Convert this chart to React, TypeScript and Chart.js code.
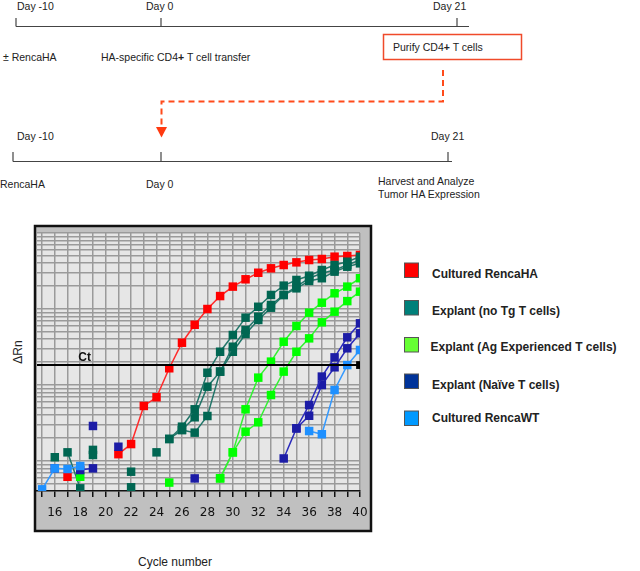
import React, { useEffect, useRef } from 'react';
import { Chart, registerables } from 'chart.js';

Chart.register(...registerables);

// Cycle numbers (x) 15..40
const cycles = [15, 16, 17, 18, 19, 20, 21, 22, 23, 24, 25, 26, 27, 28, 29, 30, 31, 32, 33, 34, 35, 36, 37, 38, 39, 40];
const xTickLabels = ['16', '18', '20', '22', '24', '26', '28', '30', '32', '34', '36', '38', '40'];
const N = null;

// ΔRn values per cycle (log scale)
const culturedRencaHA = [N, N, 0.0062, N, N, N, 0.0123, 0.0167, 0.053, 0.069, 0.166, 0.36, 0.62, 1.0, 1.48, 1.97, 2.46, 3.0, 3.43, 3.79, 4.11, 4.41, 4.55, 4.88, 4.98, 5.13];
const explantNoTgA = [N, N, 0.013, 0.00437, N, N, N, N, N, N, 0.0195, 0.0283, 0.0479, 0.145, 0.274, 0.455, 0.769, 1.07, 1.53, 2.03, 2.41, 2.74, 3.26, 3.79, 4.19, 4.88];
const explantNoTgB = [N, 0.0112, N, N, 0.014, N, N, 0.00723, N, N, 0.0195, 0.0256, 0.0376, 0.095, 0.15, 0.319, 0.53, 0.792, 1.13, 1.53, 1.97, 2.54, 2.95, 3.26, 3.79, 4.41];
const explantNoTgC = [N, N, N, N, 0.012, N, N, 0.00451, N, 0.013, N, 0.0256, 0.0236, 0.0391, 0.15, 0.274, 0.469, 0.717, 1.04, 1.53, 1.87, 2.34, 2.54, 3.1, 3.6, 3.99];
const explantAgExpA = [N, N, N, 0.0062, N, N, N, N, N, N, 0.0052, N, N, N, 0.00592, 0.013, 0.0479, 0.125, 0.203, 0.371, 0.598, 0.894, 1.21, 1.61, 1.97, 2.54];
const explantAgExpB = [N, N, N, N, N, N, N, N, N, N, N, N, N, N, 0.00592, 0.013, 0.0243, 0.0323, 0.0738, 0.15, 0.274, 0.411, 0.668, 0.922, 1.27, 1.69];
const explantNaiveA = [N, 0.008, N, 0.0076, 0.008, N, 0.0154, N, N, N, N, N, 0.0059, N, N, N, N, N, N, 0.0108, 0.0269, 0.0545, 0.129, 0.231, 0.424, 0.648];
const explantNaiveB = [N, N, N, N, 0.0289, N, N, N, N, N, N, N, N, N, N, N, N, N, N, N, 0.0269, 0.0394, 0.1, 0.171, 0.304, 0.479];
const culturedRencaWT = [0.00424, 0.008, 0.00785, 0.00859, N, N, N, N, N, N, N, N, N, N, N, N, N, N, N, N, N, 0.0248, 0.0225, 0.0859, 0.183, 0.289];

const ctThreshold = 0.183;
const xMin = 14.6;
const xMax = 40;
const yMin = 0.00403;
const yMax = 10;

const legendLabels = [
  'Cultured RencaHA',
  'Explant (no Tg T cells)',
  'Explant (Ag Experienced T cells)',
  'Explant (Naïve T cells)',
  'Cultured RencaWT',
];
const legendColors = ['#ff0000', '#00807a', '#66ff33', '#003399', '#0099ff'];

const toPts = (arr: (number | null)[]) => arr.map((v, i) => ({ x: cycles[i], y: v }));

const bgPlugin = {
  id: 'plotBg',
  beforeDraw(chart: any) {
    const { ctx, chartArea } = chart;
    ctx.save();
    ctx.fillStyle = '#e6e6e6';
    ctx.fillRect(chartArea.left, chartArea.top, chartArea.right - chartArea.left, chartArea.bottom - chartArea.top);
    ctx.restore();
  },
};

const ctLabelPlugin = {
  id: 'ctLabel',
  afterDatasetsDraw(chart: any) {
    const { ctx } = chart;
    const x = chart.scales.x.getPixelForValue(17.85);
    const y = chart.scales.y.getPixelForValue(ctThreshold);
    ctx.save();
    ctx.fillStyle = '#111';
    ctx.font = 'bold 12px "Liberation Sans", Arial, sans-serif';
    ctx.textBaseline = 'bottom';
    ctx.textAlign = 'left';
    ctx.fillText('Ct', x, y - 1);
    ctx.restore();
  },
};

function series(data: (number | null)[], point: string, line: string) {
  return {
    data: toPts(data),
    borderColor: line,
    backgroundColor: point,
    pointBackgroundColor: point,
    pointBorderColor: point,
    pointBorderWidth: 0,
    pointStyle: 'rect',
    pointRadius: 6,
    borderWidth: 1.5,
    spanGaps: false,
    clip: 0,
    tension: 0,
  };
}

export default function App() {
  const ref = useRef<HTMLCanvasElement>(null);

  useEffect(() => {
    if (!ref.current) return;
    const teal = ['#006652', '#23766a'];
    const green = ['#00ff00', '#33f033'];
    const navy = ['#1c1ca6', '#2c2cbc'];
    const chart = new Chart(ref.current, {
      type: 'line',
      data: {
        datasets: [
          {
            data: [{ x: xMin, y: ctThreshold }, { x: xMax, y: ctThreshold }],
            borderColor: '#000',
            borderWidth: 2,
            pointRadius: [0, 5.5],
            pointStyle: 'rect',
            pointBackgroundColor: '#000',
            pointBorderWidth: 0,
            clip: 0,
          } as any,
          series(culturedRencaWT, '#1e90ff', '#3399ff'),
          series(explantNaiveA, navy[0], navy[1]),
          series(explantNaiveB, navy[0], navy[1]),
          series(explantAgExpA, green[0], green[1]),
          series(explantAgExpB, green[0], green[1]),
          series(explantNoTgA, teal[0], teal[1]),
          series(explantNoTgB, teal[0], teal[1]),
          series(explantNoTgC, teal[0], teal[1]),
          series(culturedRencaHA, '#ff0000', '#ff2a2a'),
        ] as any,
      },
      options: {
        responsive: false,
        animation: false,
        devicePixelRatio: 1,
        events: [],
        layout: { padding: { left: 37, right: 280, top: 233, bottom: 40 } },
        plugins: { legend: { display: false }, tooltip: { enabled: false } },
        scales: {
          x: {
            type: 'linear',
            min: xMin,
            max: xMax,
            afterBuildTicks: (scale: any) => {
              scale.ticks = cycles.map((c) => ({ value: c }));
            },
            afterFit: (scale: any) => {
              scale.height = 40;
            },
            ticks: {
              autoSkip: false,
              maxRotation: 0,
              padding: 9,
              color: '#111',
              font: { family: '"DejaVu Sans", Verdana, sans-serif', size: 12 },
              callback: (v: any) => (xTickLabels.includes(String(v)) ? String(v) : ''),
            },
            grid: {
              color: '#9a9a9a',
              lineWidth: 1.5,
              drawTicks: true,
              tickLength: 6,
              tickColor: '#111',
              tickWidth: 1.5,
            },
            border: { display: true, color: '#111', width: 1.5 },
          },
          y: {
            type: 'logarithmic',
            min: yMin,
            max: yMax,
            afterBuildTicks: (scale: any) => {
              const t: { value: number }[] = [];
              for (const e of [-3, -2, -1, 0]) {
                for (let m = 1; m <= 9; m++) {
                  const v = Number((m * Math.pow(10, e)).toPrecision(3));
                  if (v >= yMin && v <= yMax) t.push({ value: v });
                }
              }
              t.push({ value: yMax });
              scale.ticks = t;
            },
            afterFit: (scale: any) => {
              scale.width = 0;
            },
            ticks: { display: false },
            grid: { color: '#9a9a9a', lineWidth: 1.5, drawTicks: false },
            border: { display: false },
          },
        },
      } as any,
      plugins: [bgPlugin, ctLabelPlugin],
    });
    return () => chart.destroy();
  }, []);

  const font = '"Liberation Sans", Arial, sans-serif';
  const legendTops = [263, 300.5, 337.5, 374, 411];
  const legendBase = [277.5, 314.5, 350.5, 388.5, 422];
  const legendX = [432, 432, 430.5, 432, 432];

  return (
    <div style={{ position: 'absolute', left: 0, top: 0, width: 640, height: 571, background: '#fff', overflow: 'hidden' }}>
      <svg width={640} height={571} style={{ position: 'absolute', left: 0, top: 0 }} fontFamily={font}>
        {/* Timeline 1 */}
        <g fill="#222" fontSize={10.5}>
          <text x={17} y={10}>Day -10</text>
          <text x={146} y={10}>Day 0</text>
          <text x={433} y={10}>Day 21</text>
          <text x={3} y={61}>± RencaHA</text>
          <text x={101} y={60.5}>
            HA-specific CD4<tspan fontWeight="bold">+</tspan> T cell transfer
          </text>
          <text x={393} y={50.5}>
            Purify CD4<tspan fontWeight="bold">+</tspan> T cells
          </text>
          <text x={17} y={140}>Day -10</text>
          <text x={431} y={140}>Day 21</text>
          <text x={0} y={188}>RencaHA</text>
          <text x={146} y={187.5}>Day 0</text>
          <text x={378} y={185}>Harvest and Analyze</text>
          <text x={378} y={198}>Tumor HA Expression</text>
        </g>
        <g stroke="#444" strokeWidth={1.2}>
          <line x1={16} y1={26.5} x2={469} y2={26.5} />
          <line x1={16} y1={18} x2={16} y2={26.5} />
          <line x1={161} y1={18} x2={161} y2={26.5} />
          <line x1={457} y1={18} x2={457} y2={26.5} />
          <line x1={13} y1={161.5} x2={452} y2={161.5} />
          <line x1={13} y1={152} x2={13} y2={161.5} />
          <line x1={161} y1={152} x2={161} y2={161.5} />
          <line x1={448} y1={152} x2={448} y2={161.5} />
        </g>
        <rect x={383.5} y={34.5} width={138} height={25} fill="none" stroke="#f04a2a" strokeWidth={1.5} />
        <path d="M443 70 V101.5 H161.5 V127" fill="none" stroke="#ff4a1a" strokeWidth={2} strokeDasharray="6 4" />
        <polygon points="156,127 167,127 161.5,137.5" fill="#ff3a10" />

        {/* Chart frame */}
        <rect x={35} y={226} width={336} height={305} fill="#c0c0c0" stroke="#111" strokeWidth={2.5} />

        {/* Axis titles */}
        <text x={18} y={352} fontSize={12} fill="#222" textAnchor="middle" dominantBaseline="central" transform="rotate(-90 18 352)">
          ΔRn
        </text>
        <text x={175} y={566} fontSize={12} fill="#222" textAnchor="middle">
          Cycle number
        </text>

        {/* Legend */}
        {legendLabels.map((l, i) => (
          <g key={l}>
            <rect x={404.5} y={legendTops[i]} width={14} height={14.5} fill={legendColors[i]} stroke="#555" strokeWidth={1} />
            <text x={legendX[i]} y={legendBase[i]} fontSize={12} fontWeight="bold" fill="#222">
              {l}
            </text>
          </g>
        ))}
      </svg>
      <canvas ref={ref} width={640} height={571} style={{ position: 'absolute', left: 0, top: 0 }} />
    </div>
  );
}
